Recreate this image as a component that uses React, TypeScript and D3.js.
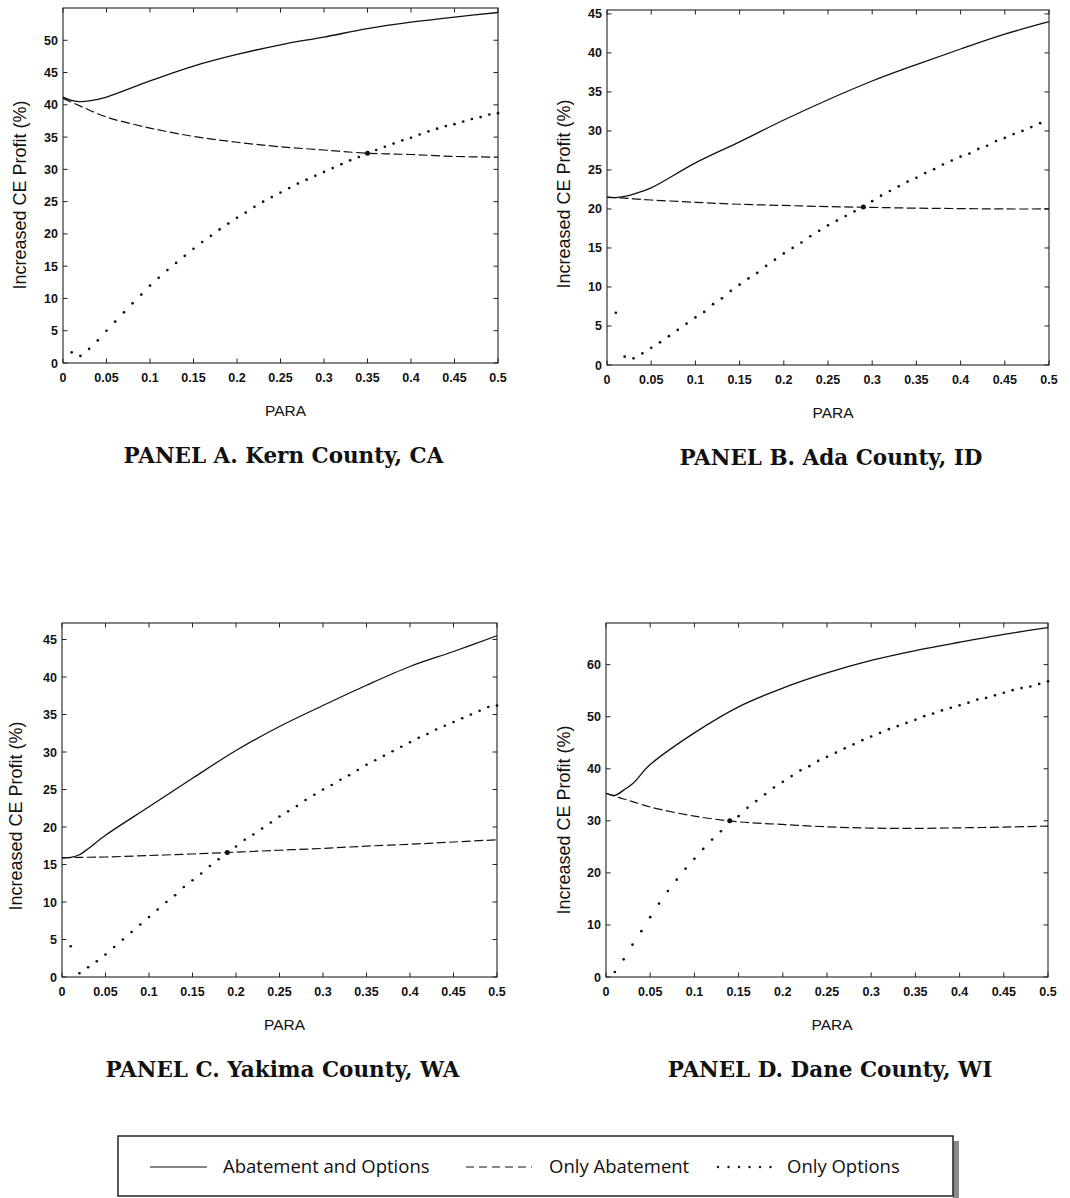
// Four-panel PARA sensitivity chart (Increased CE Profit vs PARA)
import React, { useRef, useEffect } from 'react';
import * as d3 from 'd3';

const X_TICKS = [0, 0.05, 0.1, 0.15, 0.2, 0.25, 0.3, 0.35, 0.4, 0.45, 0.5];
const X_TICK_LABELS = ['0', '0.05', '0.1', '0.15', '0.2', '0.25', '0.3', '0.35', '0.4', '0.45', '0.5'];

// sample points used for the two continuous curves
const LINE_X = [0, 0.01, 0.02, 0.03, 0.05, 0.1, 0.15, 0.2, 0.25, 0.3, 0.35, 0.4, 0.45, 0.5];
// x grid of the dotted "Only Options" points
const DOT_X = [
  0.01, 0.02, 0.03, 0.04, 0.05, 0.06, 0.07, 0.08, 0.09, 0.1,
  0.11, 0.12, 0.13, 0.14, 0.15, 0.16, 0.17, 0.18, 0.19, 0.2,
  0.21, 0.22, 0.23, 0.24, 0.25, 0.26, 0.27, 0.28, 0.29, 0.3,
  0.31, 0.32, 0.33, 0.34, 0.35, 0.36, 0.37, 0.38, 0.39, 0.4,
  0.41, 0.42, 0.43, 0.44, 0.45, 0.46, 0.47, 0.48, 0.49, 0.5,
];

// Panel A: Kern County, CA
const A_BOTH = [41.2, 40.7, 40.5, 40.6, 41.2, 43.7, 46.0, 47.8, 49.3, 50.5, 51.8, 52.8, 53.6, 54.3];
const A_ABATE = [41.0, 40.4, 39.8, 39.2, 38.1, 36.4, 35.1, 34.2, 33.5, 33.0, 32.5, 32.3, 32.0, 31.9];
const A_OPTIONS = [
  1.65, 1.1, 2.2, 3.5, 5.0, 6.4, 7.85, 9.25, 10.6, 12.0,
  13.2, 14.4, 15.5, 16.6, 17.7, 18.75, 19.7, 20.7, 21.6, 22.5,
  23.3, 24.2, 25.0, 25.7, 26.4, 27.1, 27.8, 28.4, 29.0, 29.6,
  30.2, 30.8, 31.4, 31.9, 32.5, 33.0, 33.5, 34.0, 34.5, 34.9,
  35.4, 35.9, 36.3, 36.7, 37.0, 37.4, 37.8, 38.1, 38.5, 38.7,
];
const A_CROSS = [0.35, 32.5];

// Panel B: Ada County, ID
const B_BOTH = [21.5, 21.45, 21.6, 21.9, 22.7, 25.9, 28.6, 31.4, 34.0, 36.4, 38.5, 40.5, 42.4, 44.0];
const B_ABATE = [21.5, 21.45, 21.4, 21.3, 21.15, 20.85, 20.6, 20.45, 20.3, 20.2, 20.1, 20.05, 20.0, 20.0];
const B_OPTIONS = [
  6.7, 1.07, 0.85, 1.5, 2.2, 2.9, 3.7, 4.5, 5.3, 6.1,
  6.8, 7.8, 8.55, 9.5, 10.3, 11.1, 11.8, 12.7, 13.5, 14.3,
  15.0, 15.7, 16.5, 17.2, 17.9, 18.5, 19.1, 19.7, 20.2, 21.0,
  21.7, 22.3, 22.9, 23.5, 24.0, 24.6, 25.1, 25.7, 26.2, 26.7,
  27.1, 27.7, 28.1, 28.7, 29.1, 29.6, 30.0, 30.5, 31.0, null,
];
const B_CROSS = [0.29, 20.25];

// Panel C: Yakima County, WA
const C_BOTH = [15.9, 15.95, 16.3, 17.1, 18.9, 22.7, 26.5, 30.2, 33.4, 36.2, 38.9, 41.4, 43.4, 45.5];
const C_ABATE = [15.9, 15.92, 15.95, 15.97, 16.0, 16.2, 16.4, 16.65, 16.9, 17.15, 17.45, 17.7, 18.0, 18.3];
const C_OPTIONS = [
  4.1, 0.5, 1.3, 2.1, 3.0, 4.0, 5.0, 6.0, 7.0, 8.0,
  9.0, 10.0, 10.9, 12.0, 12.9, 13.8, 14.8, 15.7, 16.6, 17.4,
  18.3, 19.0, 19.8, 20.6, 21.4, 22.1, 22.8, 23.6, 24.3, 25.0,
  25.6, 26.3, 26.9, 27.6, 28.3, 28.9, 29.5, 30.1, 30.7, 31.3,
  31.9, 32.4, 33.0, 33.5, 34.0, 34.5, 35.0, 35.5, 36.0, 36.2,
];
const C_CROSS = [0.19, 16.6];

// Panel D: Dane County, WI
const D_BOTH = [35.3, 34.9, 35.9, 37.1, 40.8, 46.9, 51.9, 55.5, 58.4, 60.8, 62.7, 64.3, 65.8, 67.1];
const D_ABATE = [35.3, 34.7, 34.2, 33.7, 32.65, 30.9, 29.8, 29.3, 28.85, 28.6, 28.55, 28.65, 28.8, 29.0];
const D_OPTIONS = [
  0.96, 3.4, 6.2, 8.8, 11.5, 14.1, 16.5, 18.7, 20.8, 22.7,
  24.6, 26.4, 28.0, 30.0, 30.9, 32.5, 33.8, 35.1, 36.4, 37.5,
  38.6, 39.7, 40.5, 41.5, 42.3, 43.1, 43.9, 44.7, 45.5, 46.2,
  46.9, 47.6, 48.2, 48.8, 49.4, 50.1, 50.6, 51.2, 51.7, 52.2,
  52.7, 53.3, 53.6, 54.1, 54.6, 55.1, 55.5, 55.8, 56.3, 56.8,
];
const D_CROSS = [0.14, 30.0];

const Y_TICKS_A = [0, 5, 10, 15, 20, 25, 30, 35, 40, 45, 50];
const Y_TICKS_B = [0, 5, 10, 15, 20, 25, 30, 35, 40, 45];
const Y_TICKS_D = [0, 10, 20, 30, 40, 50, 60];

const LEGEND_LABELS = ['Abatement and Options', 'Only Abatement', 'Only Options'];

const PANELS = [
  { title: 'PANEL A. Kern County, CA', both: A_BOTH, abate: A_ABATE, options: A_OPTIONS, cross: A_CROSS,
    yMax: 55, yTicks: Y_TICKS_A, left: 63, right: 498, top: 8, bottom: 363, labelX: 20, labelY: 195 },
  { title: 'PANEL B. Ada County, ID', both: B_BOTH, abate: B_ABATE, options: B_OPTIONS, cross: B_CROSS,
    yMax: 45.5, yTicks: Y_TICKS_B, left: 607, right: 1049, top: 10, bottom: 365, labelX: 564, labelY: 194 },
  { title: 'PANEL C. Yakima County, WA', both: C_BOTH, abate: C_ABATE, options: C_OPTIONS, cross: C_CROSS,
    yMax: 47.2, yTicks: Y_TICKS_B, left: 62, right: 497, top: 623, bottom: 977, labelX: 16, labelY: 816 },
  { title: 'PANEL D. Dane County, WI', both: D_BOTH, abate: D_ABATE, options: D_OPTIONS, cross: D_CROSS,
    yMax: 68, yTicks: Y_TICKS_D, left: 606, right: 1048, top: 623, bottom: 977, labelX: 564, labelY: 820 },
];

const INK = '#111';
const TICK_FONT = '"Liberation Sans", Arial, sans-serif';

export default function App() {
  const svgRef = useRef<SVGSVGElement>(null);

  useEffect(() => {
    if (!svgRef.current) return;
    const svg = d3.select(svgRef.current);
    svg.selectAll('*').remove();

    PANELS.forEach((p) => {
      const x = d3.scaleLinear().domain([0, 0.5]).range([p.left, p.right]);
      const y = d3.scaleLinear().domain([0, p.yMax]).range([p.bottom, p.top]);
      const g = svg.append('g');
      const tl = 4.5;

      // frame
      g.append('rect')
        .attr('x', p.left).attr('y', p.top)
        .attr('width', p.right - p.left).attr('height', p.bottom - p.top)
        .attr('fill', 'none').attr('stroke', '#222').attr('stroke-width', 1.1);

      // inward ticks on all four sides
      X_TICKS.forEach((t) => {
        g.append('line').attr('x1', x(t)).attr('x2', x(t)).attr('y1', p.bottom).attr('y2', p.bottom - tl)
          .attr('stroke', '#222').attr('stroke-width', 1);
        g.append('line').attr('x1', x(t)).attr('x2', x(t)).attr('y1', p.top).attr('y2', p.top + tl)
          .attr('stroke', '#222').attr('stroke-width', 1);
      });
      p.yTicks.forEach((t) => {
        g.append('line').attr('x1', p.left).attr('x2', p.left + tl).attr('y1', y(t)).attr('y2', y(t))
          .attr('stroke', '#222').attr('stroke-width', 1);
        g.append('line').attr('x1', p.right).attr('x2', p.right - tl).attr('y1', y(t)).attr('y2', y(t))
          .attr('stroke', '#222').attr('stroke-width', 1);
      });

      // tick labels
      g.selectAll('.xtl')
        .data(X_TICKS)
        .join('text')
        .attr('x', (d) => x(d))
        .attr('y', p.bottom + 19)
        .attr('text-anchor', 'middle')
        .attr('font-family', TICK_FONT)
        .attr('font-weight', 'bold')
        .attr('font-size', 12.5)
        .attr('fill', INK)
        .text((_, i) => X_TICK_LABELS[i]);

      g.selectAll('.ytl')
        .data(p.yTicks)
        .join('text')
        .attr('x', p.left - 5)
        .attr('y', (d) => y(d))
        .attr('dy', '0.36em')
        .attr('text-anchor', 'end')
        .attr('font-family', TICK_FONT)
        .attr('font-weight', 'bold')
        .attr('font-size', 12.5)
        .attr('fill', INK)
        .text((d) => String(d));

      // axis titles
      g.append('text')
        .attr('transform', `translate(${p.labelX}, ${p.labelY}) rotate(-90)`)
        .attr('text-anchor', 'middle')
        .attr('dominant-baseline', 'central')
        .attr('font-family', TICK_FONT)
        .attr('font-size', 18)
        .attr('fill', INK)
        .text('Increased CE Profit (%)');

      const cx = (p.left + p.right) / 2;
      g.append('text')
        .attr('x', cx + 5)
        .attr('y', p.bottom + 53)
        .attr('text-anchor', 'middle')
        .attr('font-family', TICK_FONT)
        .attr('font-size', 15.5)
        .attr('fill', INK)
        .text('PARA');

      g.append('text')
        .attr('x', cx + 3)
        .attr('y', p.bottom + 100)
        .attr('text-anchor', 'middle')
        .attr('font-family', '"DejaVu Serif", serif')
        .attr('font-weight', 'bold')
        .attr('font-size', 21.5)
        .attr('fill', INK)
        .text(p.title);

      // curves
      const line = d3.line<number>()
        .x((_, i) => x(LINE_X[i]))
        .y((d) => y(d))
        .curve(d3.curveCatmullRom.alpha(0.5));

      g.append('path')
        .attr('d', line(p.both))
        .attr('fill', 'none').attr('stroke', INK).attr('stroke-width', 1.3);

      g.append('path')
        .attr('d', line(p.abate))
        .attr('fill', 'none').attr('stroke', INK).attr('stroke-width', 1.2)
        .attr('stroke-dasharray', '9,3.5');

      const dots = DOT_X.map((dx, i) => ({ x: dx, v: p.options[i] })).filter((d) => d.v != null);
      g.selectAll('.dot')
        .data(dots)
        .join('circle')
        .attr('cx', (d) => x(d.x))
        .attr('cy', (d) => y(d.v as number))
        .attr('r', 1.35)
        .attr('fill', INK);

      g.append('circle')
        .attr('cx', x(p.cross[0]))
        .attr('cy', y(p.cross[1]))
        .attr('r', 2.5)
        .attr('fill', INK);
    });

    // legend
    const lg = svg.append('g');
    lg.append('rect').attr('x', 953).attr('y', 1141).attr('width', 6).attr('height', 57).attr('fill', '#8a8a8a');
    lg.append('rect').attr('x', 118).attr('y', 1136).attr('width', 835).attr('height', 60)
      .attr('fill', '#fff').attr('stroke', '#222').attr('stroke-width', 1.5);

    const ly = 1167;
    const items = [
      { x1: 150, x2: 207, tx: 223, dash: null as string | null },
      { x1: 466, x2: 532, tx: 549, dash: '8,5' },
      { x1: 718, x2: 772, tx: 787, dash: 'dots' },
    ];
    items.forEach((it, i) => {
      if (it.dash === 'dots') {
        lg.selectAll('.ld')
          .data(d3.range(it.x1, it.x2 + 1, 10.5))
          .join('circle')
          .attr('cx', (d) => d).attr('cy', ly).attr('r', 1.2).attr('fill', INK);
      } else {
        lg.append('line').attr('x1', it.x1).attr('x2', it.x2).attr('y1', ly).attr('y2', ly)
          .attr('stroke', INK).attr('stroke-width', 1.2)
          .attr('stroke-dasharray', it.dash);
      }
      lg.append('text')
        .attr('x', it.tx).attr('y', ly).attr('dy', '0.35em')
        .attr('font-family', '"Open Sans", sans-serif')
        .attr('font-size', 18.5)
        .attr('fill', INK)
        .text(LEGEND_LABELS[i]);
    });
  }, []);

  return (
    <svg
      ref={svgRef}
      width={1070}
      height={1198}
      style={{ position: 'absolute', left: 0, top: 0, background: '#fff', display: 'block' }}
    />
  );
}
